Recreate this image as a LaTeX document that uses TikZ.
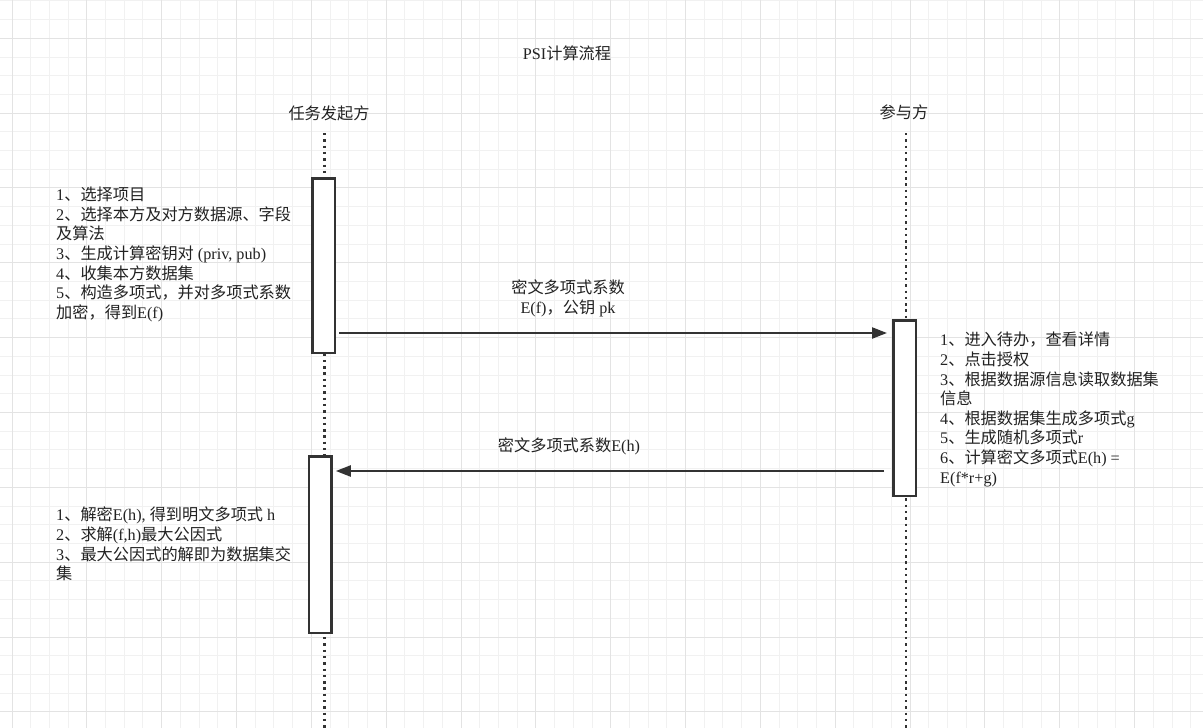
\documentclass[tikz,border=0pt]{standalone}
\usepackage{fontspec}
\setmainfont{Liberation Serif}
\newfontfamily\zhfont{Noto Sans CJK SC}
\newcommand\zh[1]{{\zhfont #1}}
\usetikzlibrary{arrows.meta,calc}
\definecolor{gridminor}{HTML}{F1F1F1}
\definecolor{gridmajor}{HTML}{E3E3E3}
\definecolor{ink}{HTML}{333333}
\definecolor{txt}{HTML}{222222}
\tikzset{
  minorline/.style={draw=gridminor,line width=1pt},
  majorline/.style={draw=gridmajor,line width=1pt},
  lifeline/.style={draw=ink,line width=2.4pt,dash pattern=on 2.4pt off 3.9pt},
  actbox/.style={draw=ink,fill=white,line width=2.5pt,minimum width=22.5pt,inner sep=0pt},
  msg/.style={draw=ink,line width=2.3pt,-{Triangle[length=15pt,width=11pt]}},
  txtblock/.style={text=txt,font=\fontsize{16.2}{19.6}\selectfont,inner sep=0pt,align=left,anchor=north west},
  lbl/.style={text=txt,font=\fontsize{16.2}{19.6}\selectfont,inner sep=0pt,align=center,anchor=north},
}
\begin{document}
\begin{tikzpicture}[x=1pt,y=-1pt]
\useasboundingbox (0,0) rectangle (1203,728);
\fill[white] (0,0) rectangle (1203,728);
% background grid
\begin{scope}
  \clip (0,0) rectangle (1203,728);
  \foreach \i in {-1,...,64} \draw[minorline] ({12+\i*18.71},0) -- ++(0,728);
  \foreach \j in {-3,...,37} \draw[minorline] (0,{38.3+\j*18.71}) -- ++(1203,0);
  \foreach \i in {0,...,16} \draw[majorline] ({12+\i*74.84},0) -- ++(0,728);
  \foreach \j in {0,...,9} \draw[majorline] (0,{38.3+\j*74.84}) -- ++(1203,0);
\end{scope}

% title and participants
\node[lbl] (title) at (567,46) {PSI\zh{计算流程}};
\node[lbl] (initiator) at (329,106) {\zh{任务发起方}};
\node[lbl] (partner) at (904,105) {\zh{参与方}};

% lifelines
\coordinate (lTop) at (324.3,133);
\coordinate (lBot) at (324.3,730);
\coordinate (rTop) at (905.7,133);
\coordinate (rBot) at (905.7,730);
\draw[lifeline] (lTop) -- (lBot);
\draw[lifeline] (rTop) -- (rBot);

% activation boxes
\node[actbox,minimum height=174.5pt] (a1) at (323.5,265.5) {};
\node[actbox,minimum height=175.5pt] (b1) at (904.5,408) {};
\node[actbox,minimum height=176.5pt] (a2) at (320.3,544.5) {};

% messages
\draw[msg] ($(a1.north east)+(3,156)$) -- ($(b1.north west)+(-5,14)$);
\draw[msg] ($(b1.north west)+(-8,152)$) -- ($(a2.north east)+(3,16)$);
\node[lbl] (m1) at (568,280) {\zh{密文多项式系数}\\E(f)\zh{，公钥} pk};
\node[lbl] (m2) at (569,438) {\zh{密文多项式系数}E(h)};

% step descriptions
\node[txtblock] (s1) at (56,187) {1\zh{、选择项目}\\
2\zh{、选择本方及对方数据源、字段}\\
\zh{及算法}\\
3\zh{、生成计算密钥对} (priv, pub)\\
4\zh{、收集本方数据集}\\
5\zh{、构造多项式，并对多项式系数}\\
\zh{加密，得到}E(f)};

\node[txtblock] (s2) at (940,332) {1\zh{、进入待办，查看详情}\\
2\zh{、点击授权}\\
3\zh{、根据数据源信息读取数据集}\\
\zh{信息}\\
4\zh{、根据数据集生成多项式}g\\
5\zh{、生成随机多项式}r\\
6\zh{、计算密文多项式}E(h) =\\
E(f*r+g)};

\node[txtblock] (s3) at (56,507) {1\zh{、解密}E(h), \zh{得到明文多项式} h\\
2\zh{、求解}(f,h)\zh{最大公因式}\\
3\zh{、最大公因式的解即为数据集交}\\
\zh{集}};
\end{tikzpicture}
\end{document}
